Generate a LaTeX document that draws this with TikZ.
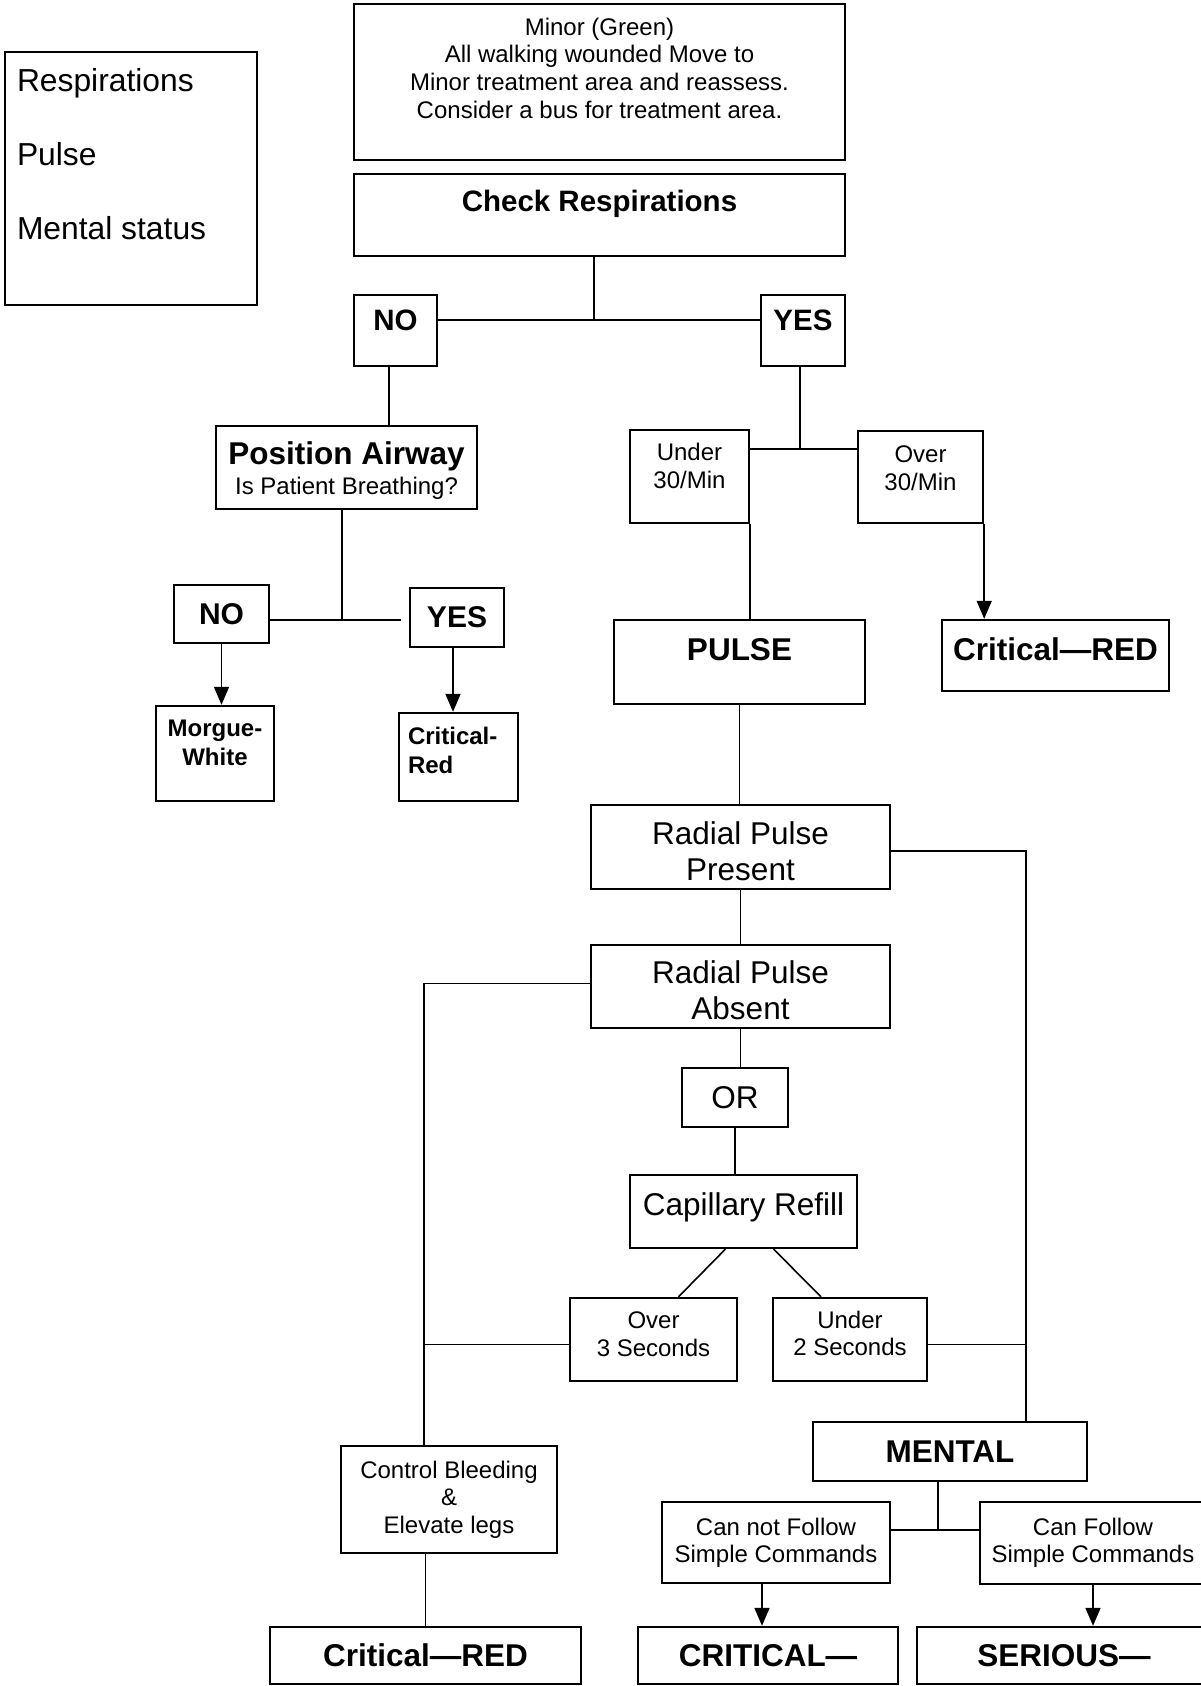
\documentclass[tikz,border=0pt]{standalone}
\usepackage{fontspec}
\setmainfont{Liberation Sans}
\usetikzlibrary{arrows.meta}
\newcommand{\smalltxt}{\fontsize{24}{27.6}\selectfont}
\newcommand{\midtxt}{\fontsize{29.5}{34}\selectfont}
\newcommand{\bigtxt}{\fontsize{31.5}{36}\selectfont}
\tikzset{
  box/.style={draw, line width=2.4pt, inner sep=0pt, align=center},
  txt/.style={inner sep=0pt, align=center, anchor=north},
  link/.style={line width=1.6pt},
  arr/.style={link, -{Triangle[length=18pt,width=15pt]}},
}

\begin{document}
\begin{tikzpicture}[x=1pt,y=-1pt]
    \useasboundingbox (0,0) rectangle (1200,1686);
    % legend
    \node[box, minimum width=252pt, minimum height=253pt,
      label={[txt, anchor=north west, align=left, font=\fontsize{31.8}{37}\selectfont, xshift=13pt, yshift=-17pt]north west:{Respirations\\[37pt]Pulse\\[37pt]Mental status}}] (legend) at (131,178.5) {};
    % top part
    \node[box, minimum width=491pt, minimum height=156pt,
      label={[txt, font=\smalltxt, yshift=-15pt]north:{Minor (Green)\\All walking wounded Move to\\Minor treatment area and reassess.\\Consider a bus for treatment area.}}] (minor) at (599.5,82) {};
    \node[box, minimum width=491pt, minimum height=82pt,
      label={[txt, font=\midtxt\bfseries, yshift=-17pt]north:Check Respirations}] (check) at (599.5,215) {};
    \node[box, minimum width=83pt, minimum height=71pt,
      label={[txt, font=\midtxt\bfseries, yshift=-16pt]north:NO}] (no1) at (395.5,330.5) {};
    \node[box, minimum width=84pt, minimum height=71pt,
      label={[txt, font=\midtxt\bfseries, yshift=-16pt]north:YES}] (yes1) at (803,330.5) {};
    \coordinate (topj) at (594,320);
    % left branch
    \node[box, minimum width=261pt, minimum height=83pt,
      label={[txt, font=\fontsize{31.5}{30}\selectfont, yshift=-17pt]north:{{\bfseries Position Airway}\\{\smalltxt Is Patient Breathing?}}}] (airway) at (346.5,467.5) {};
    \node[box, minimum width=95pt, minimum height=58pt, font=\fontsize{30}{34}\selectfont\bfseries] (no2) at (221.5,614) {NO};
    \node[box, minimum width=94pt, minimum height=59pt, font=\fontsize{30}{34}\selectfont\bfseries] (yes2) at (457,617.5) {YES};
    \coordinate (airj) at (342,620);
    \node[box, minimum width=118pt, minimum height=95pt,
      label={[txt, font=\fontsize{24}{29}\selectfont\bfseries, yshift=-14.5pt]north:{Morgue-\\White}}] (morgue) at (215,753.5) {};
    \node[box, minimum width=119pt, minimum height=88pt,
      label={[txt, anchor=north west, align=left, font=\fontsize{24}{28.5}\selectfont\bfseries, xshift=10pt, yshift=-15.5pt]north west:{Critical-\\Red}}] (crit2) at (458.5,757) {};
    % right branch
    \node[box, minimum width=119pt, minimum height=93pt,
      label={[txt, font=\fontsize{24}{28}\selectfont, yshift=-14.5pt]north:{Under\\30/Min}}] (under30) at (689.5,476.5) {};
    \node[box, minimum width=125pt, minimum height=92pt,
      label={[txt, font=\fontsize{24}{28}\selectfont, yshift=-15.5pt]north:{Over\\30/Min}}] (over30) at (920.5,477) {};
    \coordinate (yesj) at (800,449);
    \node[box, minimum width=251pt, minimum height=84pt,
      label={[txt, font=\bigtxt\bfseries, yshift=-19pt]north:PULSE}] (pulse) at (739.5,662) {};
    \node[box, minimum width=227pt, minimum height=71pt,
      label={[txt, font=\bigtxt\bfseries, yshift=-19pt]north:Critical—RED}] (critR) at (1055.5,655.5) {};
    % pulse checks
    \node[box, line width=2pt, minimum width=299pt, minimum height=84pt,
      label={[txt, font=\bigtxt, yshift=-17pt]north:{Radial Pulse\\Present}}] (present) at (740.5,847) {};
    \node[box, line width=2pt, minimum width=299pt, minimum height=83pt,
      label={[txt, font=\bigtxt, yshift=-16pt]north:{Radial Pulse\\Absent}}] (absent) at (740.5,986.5) {};
    \node[box, line width=2pt, minimum width=106pt, minimum height=59pt, font=\bigtxt] (or) at (735,1097.5) {OR};
    \node[box, line width=2pt, minimum width=227pt, minimum height=73pt,
      label={[txt, font=\bigtxt, yshift=-18pt]north:Capillary Refill}] (cap) at (743.5,1211.5) {};
    \node[box, minimum width=167pt, minimum height=83pt,
      label={[txt, font=\fontsize{24}{28}\selectfont, yshift=-15pt]north:{Over\\3 Seconds}}] (over3) at (653.5,1339.5) {};
    \node[box, minimum width=154pt, minimum height=83pt,
      label={[txt, font=\fontsize{24}{27}\selectfont, yshift=-14pt]north:{Under\\2 Seconds}}] (under2) at (850,1339.5) {};
    \coordinate (lbus) at (424,0);
    \coordinate (rbus) at (1026,0);
    % bottom part
    \node[box, minimum width=216pt, minimum height=107pt, font=\fontsize{24}{27.5}\selectfont] (ctrl) at (449,1499.5) {Control Bleeding\\\&\\Elevate legs};
    \node[box, minimum width=274pt, minimum height=59pt, font=\bigtxt\bfseries] (mental) at (950,1451.5) {MENTAL};
    \node[box, minimum width=228pt, minimum height=81pt, font=\fontsize{24}{27}\selectfont] (cannot) at (776,1542.5) {Can not Follow\\Simple Commands};
    \node[box, minimum width=226pt, minimum height=82pt, font=\fontsize{24}{27}\selectfont] (canf) at (1093,1543) {Can Follow\\Simple Commands};
    \coordinate (menj) at (938,1530);
    \node[box, minimum width=311pt, minimum height=57pt,
      label={[txt, font=\bigtxt\bfseries, yshift=-18pt]north:Critical—RED}] (critL) at (425.5,1655.5) {};
    \node[box, minimum width=260pt, minimum height=57pt,
      label={[txt, font=\bigtxt\bfseries, yshift=-18pt]north:CRITICAL—}] (crit3) at (768,1655.5) {};
    \node[box, minimum width=294pt, minimum height=57pt,
      label={[txt, font=\bigtxt\bfseries, yshift=-18pt]north:SERIOUS—}] (serious) at (1064,1655.5) {};

    % connectors
    \draw[link] (check.south -| topj) -- (topj);
    \draw[link] (no1.east |- topj) -- (yes1.west |- topj);
    \draw[link] ([xshift=-6.5pt]no1.south) -- ([xshift=-6.5pt]no1.south |- airway.north);
    \draw[link] (airway.south -| airj) -- (airj);
    \draw[link] (no2.east |- airj) -- ([xshift=-8pt]yes2.west |- airj);
    \draw[arr] (no2.south) -- (no2.south |- morgue.north);
    \draw[arr] ([xshift=-4pt]yes2.south) -- ([xshift=-4pt]yes2.south |- crit2.north);
    \draw[link] (yes1.south -| yesj) -- (yesj);
    \draw[link] (under30.east |- yesj) -- (over30.west |- yesj);
    \draw[link] (under30.south east) -- (under30.south east |- pulse.north);
    \draw[arr] (over30.south east) -- (over30.south east |- critR.north);
    \draw[link] (pulse.south) -- (pulse.south |- present.north);
    \draw[link] (present.south) -- (absent.north);
    \draw[link] (absent.south) -- (absent.south |- or.north);
    \draw[link] (or.south) -- (or.south |- cap.north);
    \draw[link] ([xshift=-18pt]cap.south) -- ([xshift=25pt]over3.north);
    \draw[link] ([xshift=30pt]cap.south) -- ([xshift=-29pt]under2.north);
    \draw[link] ([yshift=-4pt]present.east) -| (rbus |- mental.north);
    \draw[link] ([yshift=-5pt]under2.east) -- ([yshift=-5pt]rbus |- under2.east);
    \draw[link] ([yshift=3pt]absent.west) -| (lbus |- ctrl.north);
    \draw[link] ([yshift=-5pt]over3.west) -- ([yshift=-5pt]lbus |- over3.west);
    \draw[link] (critL.north |- ctrl.south) -- (critL.north);
    \draw[link] ([xshift=-12pt]mental.south) -- ([xshift=-12pt]mental.south |- menj);
    \draw[link] (cannot.east |- menj) -- (canf.west |- menj);
    \draw[arr] ([xshift=-6pt]crit3.north |- cannot.south) -- ([xshift=-6pt]crit3.north);
    \draw[arr] (canf.south) -- (canf.south |- serious.north);
\end{tikzpicture}
\end{document}
